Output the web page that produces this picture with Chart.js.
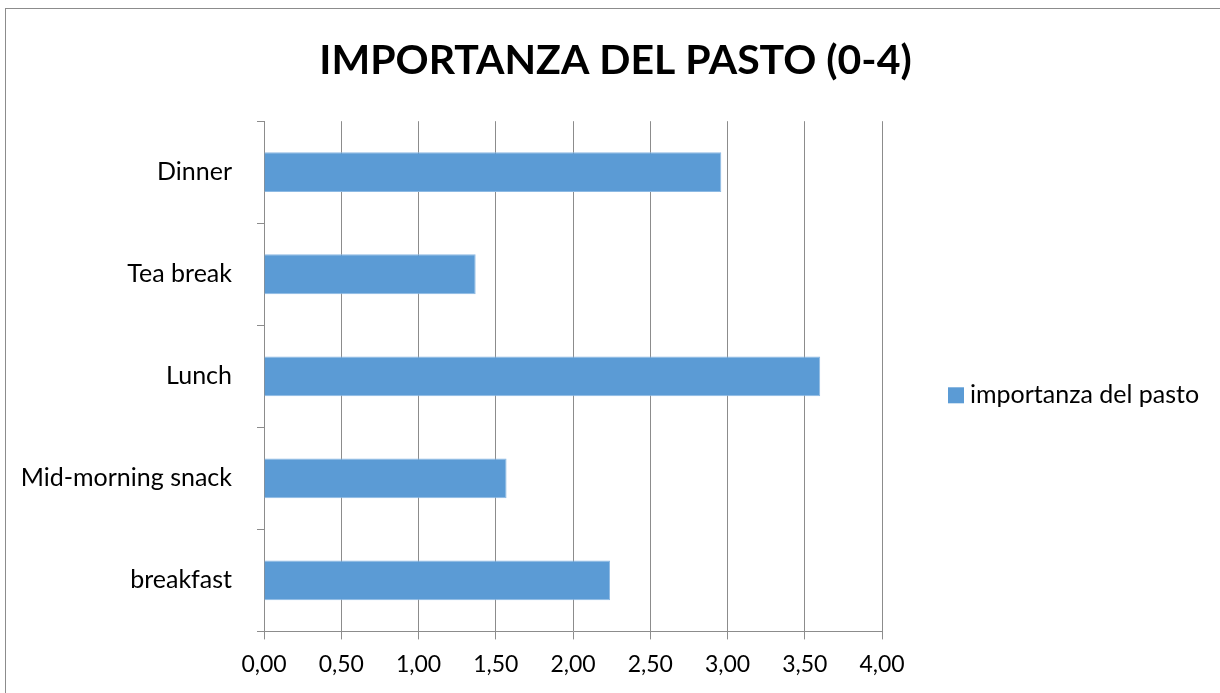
<!DOCTYPE html>
<html lang="it">
<head>
    <meta charset="UTF-8">
    <title>Importanza del pasto</title>
    <script src="https://cdn.jsdelivr.net/npm/chart.js"></script>
    <style>
        html, body { margin: 0; padding: 0; background: #ffffff; overflow: hidden; }
        .wrap { position: relative; width: 1220px; height: 693px; }
        .frame { position: absolute; left: 5px; top: 8px; width: 1240px; height: 720px; border: 1px solid #8c8c8c; }
        canvas { position: absolute; left: 0; top: 0; }
    </style>
</head>
<body>
    <div class="wrap">
        <div class="frame"></div>
        <canvas id="mealChart" width="1220" height="693"></canvas>
    </div>

    <script>
        // Meals, top to bottom
        const meals = ['Dinner', 'Tea break', 'Lunch', 'Mid-morning snack', 'breakfast'];
        // Importance score per meal (0-4)
        const importance = [2.96, 1.37, 3.60, 1.57, 2.24];
        // Value axis range and step
        const axisMin = 0;
        const axisMax = 4;
        const axisStep = 0.5;

        const fontFamily = 'Lato, "Open Sans", sans-serif';
        const gridColor = '#8c8c8c';
        const barColor = '#5b9bd5';

        // Legend drawn to the right of the plot, Excel style (small square + text)
        const sideLegend = {
            id: 'sideLegend',
            afterDraw(chart) {
                const { ctx, chartArea } = chart;
                const ds = chart.data.datasets[0];
                const x = chartArea.right + 66;
                const y = (chartArea.top + chartArea.bottom) / 2 + 19;
                ctx.save();
                ctx.fillStyle = ds.backgroundColor;
                ctx.fillRect(x, y - 8, 16, 16);
                ctx.fillStyle = '#000000';
                ctx.font = '25px ' + fontFamily;
                ctx.textBaseline = 'middle';
                ctx.fillText(ds.label, x + 22, y);
                ctx.restore();
            }
        };

        const ctx = document.getElementById('mealChart').getContext('2d');
        const mealChart = new Chart(ctx, {
            type: 'bar',
            data: {
                labels: meals,
                datasets: [{
                    label: 'importanza del pasto',
                    data: importance,
                    backgroundColor: barColor,
                    borderColor: '#8cb9e3',
                    borderWidth: 1,
                    categoryPercentage: 1,
                    barPercentage: 0.39
                }]
            },
            options: {
                indexAxis: 'y',
                responsive: false,
                animation: false,
                layout: { padding: { left: 11, right: 0, top: 0, bottom: 4 } },
                plugins: {
                    title: {
                        display: true,
                        text: 'IMPORTANZA DEL PASTO (0-4)',
                        color: '#000000',
                        font: { family: fontFamily, size: 41, weight: 'bold' },
                        padding: { top: 36, bottom: 36 }
                    },
                    legend: { display: false },
                    tooltip: { enabled: false }
                },
                scales: {
                    x: {
                        min: axisMin,
                        max: axisMax,
                        ticks: {
                            stepSize: axisStep,
                            color: '#000000',
                            font: { family: fontFamily, size: 23 },
                            padding: 11,
                            callback: (v) => Number(v).toFixed(2).replace('.', ',')
                        },
                        grid: { color: gridColor, lineWidth: 1, tickLength: 8 },
                        border: { color: gridColor }
                    },
                    y: {
                        offset: true,
                        afterFit: (scale) => { scale.width = 253; },
                        ticks: {
                            color: '#000000',
                            font: { family: fontFamily, size: 25 },
                            padding: 25
                        },
                        grid: {
                            offset: true,
                            drawOnChartArea: false,
                            color: gridColor,
                            tickLength: 7
                        },
                        border: { color: gridColor }
                    },
                    // empty right-hand axis that reserves room for the legend
                    legendSpace: {
                        type: 'category',
                        position: 'right',
                        afterFit: (scale) => { scale.width = 338; },
                        ticks: { display: false },
                        grid: { display: false },
                        border: { display: false }
                    }
                }
            },
            plugins: [sideLegend]
        });
    </script>
</body>
</html>
